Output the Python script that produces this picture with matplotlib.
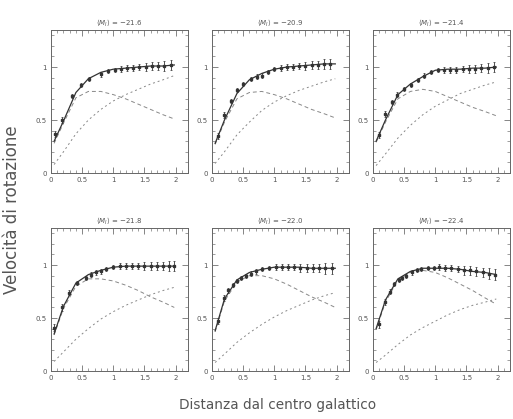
import matplotlib
matplotlib.use("Agg")
import matplotlib.pyplot as plt
from matplotlib.ticker import MultipleLocator

titles = [r"$\langle M_I\rangle$ = $-$21.6", r"$\langle M_I\rangle$ = $-$20.9", r"$\langle M_I\rangle$ = $-$21.4",
          r"$\langle M_I\rangle$ = $-$21.8", r"$\langle M_I\rangle$ = $-$22.0", r"$\langle M_I\rangle$ = $-$22.4"]

grid_x = [0.05, 0.2, 0.4, 0.6, 0.8, 1.0, 1.2, 1.4, 1.6, 1.8, 1.98]

pts_x = [
    [0.07, 0.18, 0.34, 0.48, 0.61, 0.80, 0.92, 1.02, 1.12, 1.22, 1.32, 1.42, 1.52, 1.62, 1.72, 1.82, 1.92],
    [0.10, 0.19, 0.30, 0.40, 0.49, 0.62, 0.72, 0.81, 0.90, 1.00, 1.10, 1.20, 1.30, 1.40, 1.50, 1.60, 1.70, 1.80, 1.90],
    [0.10, 0.20, 0.30, 0.39, 0.50, 0.61, 0.72, 0.82, 0.93, 1.04, 1.14, 1.24, 1.34, 1.44, 1.54, 1.64, 1.74, 1.84, 1.94],
    [0.05, 0.18, 0.29, 0.42, 0.56, 0.64, 0.72, 0.80, 0.88, 1.00, 1.10, 1.20, 1.30, 1.40, 1.50, 1.60, 1.70, 1.80, 1.90, 1.98],
    [0.10, 0.19, 0.26, 0.33, 0.40, 0.47, 0.54, 0.62, 0.70, 0.81, 0.92, 1.02, 1.12, 1.22, 1.32, 1.42, 1.52, 1.62, 1.72, 1.82, 1.92],
    [0.10, 0.20, 0.27, 0.34, 0.41, 0.47, 0.53, 0.62, 0.70, 0.77, 0.88, 0.98, 1.06, 1.16, 1.26, 1.36, 1.46, 1.56, 1.66, 1.76, 1.86, 1.96],
]
pts_y = [
    [0.37, 0.50, 0.73, 0.83, 0.89, 0.93, 0.96, 0.97, 0.98, 0.99, 0.99, 1.00, 1.00, 1.01, 1.01, 1.01, 1.02],
    [0.35, 0.55, 0.68, 0.78, 0.84, 0.89, 0.91, 0.92, 0.95, 0.98, 0.99, 1.00, 1.00, 1.01, 1.01, 1.02, 1.02, 1.03, 1.03],
    [0.36, 0.56, 0.67, 0.74, 0.79, 0.83, 0.88, 0.92, 0.95, 0.97, 0.97, 0.97, 0.97, 0.98, 0.98, 0.98, 0.99, 0.99, 1.00],
    [0.41, 0.60, 0.74, 0.83, 0.88, 0.91, 0.93, 0.94, 0.96, 0.98, 0.99, 0.99, 0.99, 0.99, 0.99, 0.99, 0.99, 0.99, 0.99, 0.99],
    [0.47, 0.69, 0.76, 0.81, 0.85, 0.88, 0.90, 0.92, 0.94, 0.96, 0.97, 0.98, 0.98, 0.98, 0.98, 0.97, 0.97, 0.97, 0.97, 0.97, 0.97],
    [0.44, 0.65, 0.75, 0.82, 0.86, 0.88, 0.90, 0.93, 0.95, 0.96, 0.97, 0.97, 0.98, 0.97, 0.97, 0.96, 0.95, 0.95, 0.94, 0.93, 0.92, 0.91],
]
pts_err = [
    [0.03, 0.03, 0.02, 0.02, 0.02, 0.02, 0.02, 0.02, 0.03, 0.03, 0.03, 0.03, 0.04, 0.04, 0.04, 0.05, 0.05],
    [0.03, 0.03, 0.02, 0.02, 0.02, 0.02, 0.02, 0.02, 0.02, 0.02, 0.03, 0.03, 0.03, 0.03, 0.04, 0.04, 0.04, 0.05, 0.05],
    [0.03, 0.03, 0.02, 0.02, 0.02, 0.02, 0.02, 0.02, 0.02, 0.02, 0.03, 0.03, 0.03, 0.03, 0.04, 0.04, 0.04, 0.05, 0.05],
    [0.03, 0.03, 0.02, 0.02, 0.02, 0.02, 0.02, 0.02, 0.02, 0.02, 0.03, 0.03, 0.03, 0.03, 0.04, 0.04, 0.04, 0.04, 0.05, 0.05],
    [0.03, 0.03, 0.02, 0.02, 0.02, 0.02, 0.02, 0.02, 0.02, 0.02, 0.02, 0.03, 0.03, 0.03, 0.03, 0.04, 0.04, 0.04, 0.04, 0.05, 0.05],
    [0.03, 0.03, 0.02, 0.02, 0.02, 0.02, 0.02, 0.02, 0.02, 0.02, 0.02, 0.02, 0.03, 0.03, 0.03, 0.03, 0.04, 0.04, 0.04, 0.04, 0.05, 0.05],
]
total = [
    [0.30, 0.49, 0.76, 0.89, 0.95, 0.98, 0.99, 1.00, 1.01, 1.01, 1.02],
    [0.28, 0.50, 0.75, 0.88, 0.94, 0.98, 1.00, 1.01, 1.02, 1.03, 1.03],
    [0.30, 0.50, 0.74, 0.84, 0.91, 0.97, 0.98, 0.98, 0.99, 0.99, 1.00],
    [0.35, 0.61, 0.83, 0.91, 0.95, 0.98, 0.99, 0.99, 0.99, 0.99, 0.99],
    [0.38, 0.68, 0.86, 0.93, 0.96, 0.98, 0.98, 0.98, 0.97, 0.97, 0.97],
    [0.40, 0.67, 0.87, 0.94, 0.97, 0.97, 0.97, 0.96, 0.94, 0.93, 0.91],
]
disk = [
    [0.28, 0.47, 0.71, 0.77, 0.77, 0.74, 0.70, 0.65, 0.60, 0.55, 0.51],
    [0.27, 0.48, 0.70, 0.76, 0.77, 0.74, 0.70, 0.65, 0.60, 0.56, 0.52],
    [0.29, 0.48, 0.70, 0.77, 0.79, 0.77, 0.72, 0.67, 0.62, 0.58, 0.54],
    [0.34, 0.59, 0.80, 0.87, 0.87, 0.85, 0.81, 0.76, 0.70, 0.65, 0.60],
    [0.37, 0.66, 0.84, 0.90, 0.90, 0.87, 0.82, 0.76, 0.70, 0.65, 0.60],
    [0.39, 0.65, 0.86, 0.93, 0.95, 0.93, 0.88, 0.82, 0.76, 0.69, 0.63],
]
halo = [
    [0.08, 0.20, 0.37, 0.50, 0.60, 0.68, 0.74, 0.79, 0.84, 0.88, 0.92],
    [0.09, 0.20, 0.36, 0.48, 0.59, 0.67, 0.73, 0.78, 0.82, 0.86, 0.89],
    [0.07, 0.18, 0.33, 0.45, 0.55, 0.63, 0.69, 0.75, 0.79, 0.83, 0.86],
    [0.09, 0.18, 0.30, 0.40, 0.49, 0.56, 0.62, 0.67, 0.72, 0.76, 0.79],
    [0.08, 0.16, 0.27, 0.36, 0.44, 0.51, 0.57, 0.62, 0.67, 0.71, 0.74],
    [0.08, 0.15, 0.25, 0.34, 0.41, 0.47, 0.53, 0.58, 0.62, 0.65, 0.68],
]

xtick_vals = [0, 0.5, 1, 1.5, 2]
xtick_labels = ["0", "0.5", "1", "1.5", "2"]
ytick_vals = [0, 0.5, 1]
ytick_labels = ["0", "0.5", "1"]

fig = plt.figure(figsize=(5.13, 4.19), dpi=100)
W, H = 513, 419
lefts = [51, 212, 373]
tops = [30, 228]
aw, ah = 137, 143
ink = "#555555"

for i in range(6):
    r, c = divmod(i, 3)
    ax = fig.add_axes([lefts[c] / W, 1 - (tops[r] + ah) / H, aw / W, ah / H])
    ax.plot(grid_x, disk[i], color="#888888", lw=0.7, ls=(0, (4, 3)))
    ax.plot(grid_x, halo[i], color="#888888", lw=0.7, ls=(0, (2, 3)))
    ax.plot(grid_x, total[i], color="#333333", lw=0.9)
    ax.errorbar(pts_x[i], pts_y[i], yerr=pts_err[i], fmt="s", ms=1.8,
                color="#333333", mfc="#333333", elinewidth=0.6, capsize=1, capthick=0.5)
    ax.set_xlim(0, 2.2)
    ax.set_ylim(0, 1.35)
    ax.set_xticks(xtick_vals)
    ax.set_xticklabels(xtick_labels)
    ax.set_yticks(ytick_vals)
    ax.set_yticklabels(ytick_labels)
    ax.xaxis.set_minor_locator(MultipleLocator(0.1))
    ax.yaxis.set_minor_locator(MultipleLocator(0.1))
    ax.tick_params(which="both", direction="in", top=True, right=True,
                   labelsize=5, colors=ink, pad=3)
    ax.tick_params(which="major", length=4, width=0.5)
    ax.tick_params(which="minor", length=2, width=0.4)
    for s in ax.spines.values():
        s.set_color("#666666")
        s.set_linewidth(0.7)
    ax.set_title(titles[i], fontsize=5, color=ink, pad=3)

fig.text(278 / W, 1 - 405 / H, "Distanza dal centro galattico", ha="center", va="center",
         fontsize=9.8, color=ink)
fig.text(12 / W, 1 - 210 / H, "Velocità di rotazione", ha="center", va="center",
         rotation=90, fontsize=12, color=ink)

fig.savefig("out.png", dpi=100)
